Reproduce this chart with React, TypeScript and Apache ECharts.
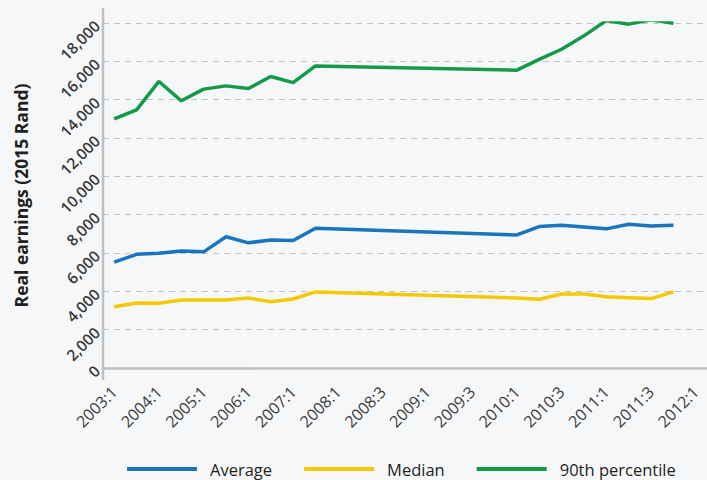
import React, { useEffect, useRef } from "react";
import * as echarts from "echarts";

const categories = [
  "2003:1", "2003:3", "2004:1", "2004:3", "2005:1", "2005:3", "2006:1", "2006:3",
  "2007:1", "2007:3", "2008:1", "2008:2", "2008:3", "2008:4", "2009:1", "2009:2",
  "2009:3", "2009:4", "2010:1", "2010:2", "2010:3", "2010:4", "2011:1", "2011:2",
  "2011:3", "2011:4", "2012:1",
];

const average = [
  5520, 5930, 5990, 6110, 6060, 6850, 6530, 6680, 6650, 7290,
  null, null, null, null, null, null, null, null,
  6940, 7380, 7450, 7360, 7260, 7500, 7410, 7450, null,
];

const median = [
  3200, 3390, 3380, 3550, 3550, 3550, 3650, 3460, 3600, 3970,
  null, null, null, null, null, null, null, null,
  3650, 3590, 3860, 3860, 3720, 3670, 3620, 3970, null,
];

const p90 = [
  13000, 13470, 14950, 13940, 14550, 14720, 14580, 15210, 14890, 15760,
  null, null, null, null, null, null, null, null,
  15540, 16100, 16630, 17330, 18130, 17940, 18170, 17990, null,
];

const seriesNames = ["Average", "Median", "90th percentile"];
const colors = ["#1a75bc", "#f5c800", "#139a48"];

export default function App() {
  const ref = useRef<HTMLDivElement>(null);
  useEffect(() => {
    if (!ref.current) return;
    const chart = echarts.init(ref.current, null, { renderer: "svg" });
    const font = "'Open Sans', 'Noto Sans', sans-serif";
    const mk = (name: string, data: (number | null)[], color: string) => ({
      name,
      type: "line",
      data,
      connectNulls: true,
      showSymbol: false,
      symbol: "none",
      lineStyle: { color, width: 3.5 },
      itemStyle: { color },
    });
    chart.setOption({
      animation: false,
      backgroundColor: "#f6f7f9",
      textStyle: { fontFamily: font },
      grid: { left: 103, right: -4, top: 23, bottom: 112, containLabel: false },
      legend: {
        left: 122,
        top: 454,
        itemWidth: 70,
        itemHeight: 4,
        itemGap: 32,
        icon: "rect",
        data: seriesNames,
        textStyle: { fontSize: 16.5, lineHeight: 20, color: "#231f20", fontFamily: font, padding: [0, 0, 0, 8] },
      },
      xAxis: {
        type: "category",
        data: categories,
        boundaryGap: true,
        offset: 11,
        axisLine: { show: true, lineStyle: { color: "#bfbfbf", width: 2.5 } },
        axisTick: { show: false },
        axisLabel: {
          interval: 1,
          rotate: 45,
          margin: 10,
          fontSize: 16,
          color: "#3b3b3b",
          fontFamily: font,
        },
        splitLine: { show: false },
      },
      yAxis: {
        type: "value",
        min: 0,
        max: 18000,
        interval: 2000,
        name: "Real earnings (2015 Rand)",
        nameLocation: "middle",
        nameGap: 73,
        nameRotate: 90,
        nameTextStyle: { fontSize: 17.5, fontWeight: "bold", color: "#231f20", fontFamily: font },
        axisLine: { show: false },
        axisTick: { show: false },
        axisLabel: {
          rotate: 45,
          margin: 6,
          fontSize: 15.5,
          fontWeight: 600,
          color: "#383838",
          fontFamily: font,
          formatter: (v: number) => v.toLocaleString("en-US"),
        },
        splitLine: { show: true, lineStyle: { color: "#c4c4c4", type: [6, 5], width: 1.2 } },
      },
      graphic: [
        {
          type: "line",
          shape: { x1: 103, y1: 8, x2: 103, y2: 380 },
          style: { stroke: "#bfbfbf", lineWidth: 2.5 },
          z: 10,
        },
      ],
      series: [
        mk(seriesNames[0], average, colors[0]),
        mk(seriesNames[1], median, colors[1]),
        mk(seriesNames[2], p90, colors[2]),
      ],
    });
    return () => chart.dispose();
  }, []);
  return <div ref={ref} style={{ width: 707, height: 480, position: "absolute", left: 0, top: 0 }} />;
}
